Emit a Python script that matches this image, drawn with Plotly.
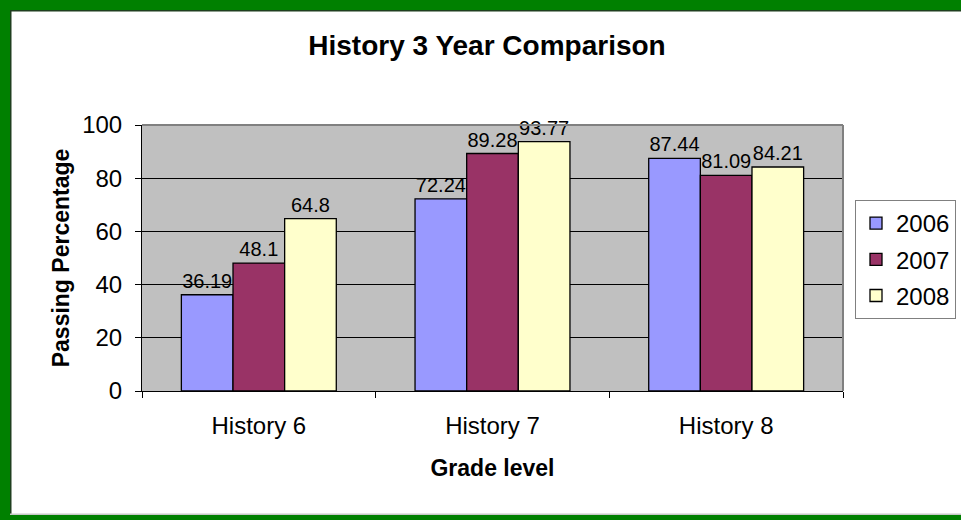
import plotly.graph_objects as go

categories = ["History 6", "History 7", "History 8"]
years = ["2006", "2007", "2008"]
values_2006 = [36.19, 72.24, 87.44]
values_2007 = [48.1, 89.28, 81.09]
values_2008 = [64.8, 93.77, 84.21]
y_ticks = [0, 20, 40, 60, 80, 100]

W, H = 961, 520
L, R, T, B = 142, 843, 125, 391  # plot area in pixels

def px_x(p):
    return (p - L) / (R - L)

def px_y(p):
    return (B - p) / (B - T)

FONT = "Arial, Liberation Sans, sans-serif"
colors = ["#9999FF", "#993366", "#FFFFCC"]
series = [values_2006, values_2007, values_2008]

fig = go.Figure()
for name, vals, col in zip(years, series, colors):
    fig.add_trace(go.Bar(
        x=categories, y=vals, name=name,
        marker=dict(color=col, line=dict(color="black", width=1.3)),
        text=[f"{v:g}" for v in vals], textposition="outside",
        textfont=dict(size=20, color="black", family=FONT),
        cliponaxis=False, legendgroup=name,
    ))

fig.update_layout(
    width=W, height=H,
    margin=dict(l=L, r=W - R, t=T, b=H - B, autoexpand=False),
    paper_bgcolor="white", plot_bgcolor="#C0C0C0",
    barmode="group", bargap=0.337, bargroupgap=0,
    font=dict(family=FONT, color="black", size=24),
    title=dict(text="<b>History 3 Year Comparison</b>", x=487 / W, xanchor="center",
               y=1 - 45 / H, yanchor="middle", xref="container", yref="container",
               font=dict(size=28, family=FONT, color="black")),
    showlegend=True,
    legend=dict(x=px_x(855), y=px_y(200), xanchor="left", yanchor="top",
                bordercolor="#808080", borderwidth=1, bgcolor="white",
                font=dict(size=24, family=FONT), traceorder="grouped",
                tracegroupgap=2, itemwidth=30),
)
fig.update_xaxes(
    showline=True, linecolor="black", linewidth=1, mirror=False,
    ticks="outside", tickson="boundaries", ticklen=6, tickcolor="black",
    showgrid=False, tickfont=dict(size=24), ticklabelstandoff=13,
    title=dict(text="<b>Grade level</b>", font=dict(size=23), standoff=22),
)
fig.update_yaxes(
    range=[0, 100], tickvals=y_ticks, showline=True, linecolor="black", linewidth=1,
    ticks="outside", ticklen=6, tickcolor="black", showgrid=True, gridcolor="black",
    gridwidth=1, zeroline=False, tickfont=dict(size=24), ticklabelstandoff=8,
    title=dict(text="<b>Passing Percentage</b>", font=dict(size=23), standoff=6),
)

shapes = []
# plot area top and right border (gray)
shapes.append(dict(type="line", xref="paper", yref="paper", x0=0, x1=1, y0=1, y1=1,
                   line=dict(color="#808080", width=2), layer="above"))
shapes.append(dict(type="line", xref="paper", yref="paper", x0=1, x1=1, y0=0, y1=1,
                   line=dict(color="#808080", width=2), layer="above"))
# green frame
green = "#008000"
def rect(x0, y0, x1, y1, col):
    return dict(type="rect", xref="paper", yref="paper",
                x0=px_x(x0), x1=px_x(x1), y0=px_y(y1), y1=px_y(y0),
                fillcolor=col, line=dict(width=0), layer="above")
shapes.append(rect(0, 0, 10, H, green))
shapes.append(rect(0, 0, W, 10, green))
shapes.append(rect(10, 10, 11.5, 515, "#1F3F1F"))
shapes.append(rect(10, 10, W, 11.5, "#1F3F1F"))
shapes.append(rect(0, 515, W, H, green))
shapes.append(rect(10, 513.5, W, 515, "#C8C8C8"))
fig.update_layout(shapes=shapes)

fig.write_html("out.html", config={"displayModeBar": False},
               post_script="document.body.style.margin='0';document.body.style.overflow='hidden';")
